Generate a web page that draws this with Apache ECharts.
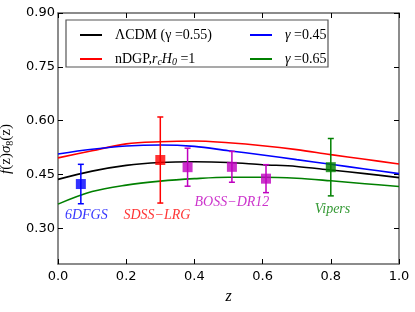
<!DOCTYPE html>
<html>
<head>
<meta charset="utf-8">
<script src="https://cdn.jsdelivr.net/npm/echarts@6/dist/echarts.min.js"></script>
<style>
html,body{margin:0;padding:0;background:#fff;}
#chart{width:415px;height:312px;}
</style>
</head>
<body>
<div id="chart"></div>
<script>
// ---- data ----
const zGrid = [0.0, 0.1, 0.2, 0.3, 0.4, 0.5, 0.6, 0.7, 0.8, 0.9, 1.0];
const lcdm  = [0.436, 0.459, 0.475, 0.483, 0.485, 0.483, 0.477, 0.472, 0.462, 0.452, 0.441];
const ndgp  = [0.496, 0.516, 0.535, 0.541, 0.543, 0.538, 0.530, 0.519, 0.505, 0.492, 0.479];
const gam45 = [0.507, 0.520, 0.529, 0.532, 0.528, 0.516, 0.504, 0.491, 0.478, 0.465, 0.452];
const gam65 = [0.367, 0.402, 0.420, 0.431, 0.438, 0.442, 0.442, 0.439, 0.432, 0.424, 0.416];

const obsSurvey = ['6DFGS', 'SDSS−LRG', 'BOSS−DR12', 'BOSS−DR12', 'BOSS−DR12', 'Vipers'];
const obsZ      = [0.067, 0.30, 0.38, 0.51, 0.61, 0.80];
const obsVal    = [0.423, 0.490, 0.470, 0.471, 0.438, 0.470];
const obsErr    = [0.055, 0.120, 0.053, 0.043, 0.039, 0.080];

const surveyNames = ['6DFGS', 'SDSS−LRG', 'BOSS−DR12', 'Vipers'];
const surveyLabelZ = [0.083, 0.290, 0.510, 0.805];
const surveyLabelY = [0.337, 0.337, 0.373, 0.353];

const xTicks = [0.0, 0.2, 0.4, 0.6, 0.8, 1.0];
const yTicks = [0.30, 0.45, 0.60, 0.75, 0.90];

// ---- styles ----
const surveyColor = {'6DFGS':'#0000ff','SDSS−LRG':'#ff0000','BOSS−DR12':'#bf00bf','Vipers':'#008000'};
const serif = '"Liberation Serif", "DejaVu Serif", serif';
const sans = '"DejaVu Sans", sans-serif';

const pair = (xs, ys) => xs.map((x, i) => [x, ys[i]]);

const chart = echarts.init(document.getElementById('chart'), null, {renderer: 'canvas'});

const frameColor = '#666';
const tickStyle = {show: true, inside: true, length: 5, lineStyle: {color: '#000', width: 1}};

function xAx(pos, labels) {
  return {
    type: 'value', position: pos, min: 0, max: 1, interval: 0.2,
    axisLine: {show: true, onZero: false, lineStyle: {color: frameColor, width: 1.5}},
    axisTick: Object.assign({}, tickStyle, {customValues: xTicks}),
    splitLine: {show: false},
    axisLabel: labels ? {show: true, color: '#000', fontFamily: sans, fontSize: 13, margin: 6,
      customValues: xTicks, formatter: v => v.toFixed(1)} : {show: false},
    name: labels ? 'z' : '', nameLocation: 'middle', nameGap: 25,
    nameTextStyle: {fontFamily: serif, fontStyle: 'italic', fontSize: 16, color: '#000'}
  };
}
function yAx(pos, labels) {
  return {
    type: 'value', position: pos, min: 0.2, max: 0.9,
    axisLine: {show: true, onZero: false, lineStyle: {color: frameColor, width: 1.5}},
    axisTick: Object.assign({}, tickStyle, {customValues: yTicks}),
    splitLine: {show: false},
    axisLabel: labels ? {show: true, color: '#000', fontFamily: sans, fontSize: 13, margin: 3,
      customValues: yTicks, formatter: v => v.toFixed(2)} : {show: false, customValues: yTicks},
    name: labels ? '{i|f}{n|(z)}{i|σ}{s|8}{n|(z)}' : '', nameLocation: 'middle', nameGap: 34,
    nameTextStyle: {fontFamily: serif, fontSize: 15, color: '#000', padding: [0, 21, 0, 0],
      rich: {i: {fontFamily: serif, fontStyle: 'italic', fontSize: 15},
             n: {fontFamily: serif, fontSize: 15},
             s: {fontFamily: serif, fontSize: 10, verticalAlign: 'bottom', padding: [8, 0, 0, 0]}}}
  };
}

const lineSeries = (name, ys, color) => ({
  name: name, type: 'line', data: pair(zGrid, ys), smooth: 0.35, showSymbol: false,
  symbol: 'none', lineStyle: {color: color, width: 1.6}, itemStyle: {color: color},
  z: 2, silent: true
});

const errSeries = {
  type: 'custom', z: 3, silent: true,
  data: obsZ.map((z, i) => [z, obsVal[i], obsErr[i], i]),
  encode: {x: 0, y: 1},
  renderItem: function (params, api) {
    const z = api.value(0), v = api.value(1), e = api.value(2);
    const col = surveyColor[obsSurvey[api.value(3)]];
    const t = api.coord([z, v + e]), b = api.coord([z, v - e]);
    const w = 3;
    const st = {stroke: col, lineWidth: 1.5};
    return {type: 'group', children: [
      {type: 'line', shape: {x1: t[0], y1: t[1], x2: b[0], y2: b[1]}, style: st},
      {type: 'line', shape: {x1: t[0] - w, y1: t[1], x2: t[0] + w, y2: t[1]}, style: st},
      {type: 'line', shape: {x1: b[0] - w, y1: b[1], x2: b[0] + w, y2: b[1]}, style: st}
    ]};
  }
};

const pointSeries = {
  type: 'scatter', z: 4, silent: true, symbol: 'rect', symbolSize: 10,
  data: obsZ.map((z, i) => ({value: [z, obsVal[i]], itemStyle: {color: surveyColor[obsSurvey[i]]}}))
};

const labelSeries = {
  type: 'scatter', z: 5, silent: true, symbolSize: 0,
  data: surveyNames.map((n, i) => ({
    value: [surveyLabelZ[i], surveyLabelY[i]], name: n,
    label: {show: true, position: 'inside', formatter: n, color: surveyColor[n],
      fontFamily: serif, fontStyle: 'italic', fontSize: 14}
  }))
};

const legendText = {
  fontFamily: serif, fontSize: 14, color: '#000', padding: [0, 0, 0, 8], lineHeight: 16,
  rich: {
    i: {fontFamily: serif, fontStyle: 'italic', fontSize: 14},
    s: {fontFamily: serif, fontStyle: 'italic', fontSize: 10, verticalAlign: 'bottom', padding: [6, 0, 0, 0]},
    n: {fontFamily: serif, fontSize: 14}
  }
};
const legendFmt = {
  'ΛCDM (γ=0.55)': 'ΛCDM (γ =0.55)',
  'nDGP': 'nDGP,{i|r}{s|c}{i|H}{s|0} =1',
  'γ=0.45': '{i|γ}{n| =0.45}',
  'γ=0.65': '{i|γ}{n| =0.65}'
};

const option = {
  animation: false,
  backgroundColor: '#fff',
  grid: {left: 58, right: 16, top: 13, bottom: 48, containLabel: false, outerBoundsMode: 'none'},
  xAxis: [xAx('bottom', true), xAx('top', false)],
  yAxis: [yAx('left', true), yAx('right', false)],
  graphic: [{
    type: 'rect', shape: {x: 66, y: 20, width: 262, height: 47}, z: 10,
    style: {fill: '#fff', stroke: '#555', lineWidth: 1.2}, silent: true
  }],
  legend: [
    {data: ['ΛCDM (γ=0.55)', 'nDGP'], orient: 'vertical', left: 75, top: 22, itemGap: 8,
     itemWidth: 22, itemHeight: 2, icon: 'rect', selectedMode: false, z: 20,
     formatter: n => legendFmt[n], textStyle: legendText},
    {data: ['γ=0.45', 'γ=0.65'], orient: 'vertical', left: 245, top: 22, itemGap: 8,
     itemWidth: 22, itemHeight: 2, icon: 'rect', selectedMode: false, z: 20,
     formatter: n => legendFmt[n], textStyle: legendText}
  ],
  series: [
    lineSeries('ΛCDM (γ=0.55)', lcdm, '#000000'),
    lineSeries('nDGP', ndgp, '#ff0000'),
    lineSeries('γ=0.45', gam45, '#0000ff'),
    lineSeries('γ=0.65', gam65, '#008000'),
    errSeries, pointSeries, labelSeries
  ]
};
chart.setOption(option);
</script>
</body>
</html>
